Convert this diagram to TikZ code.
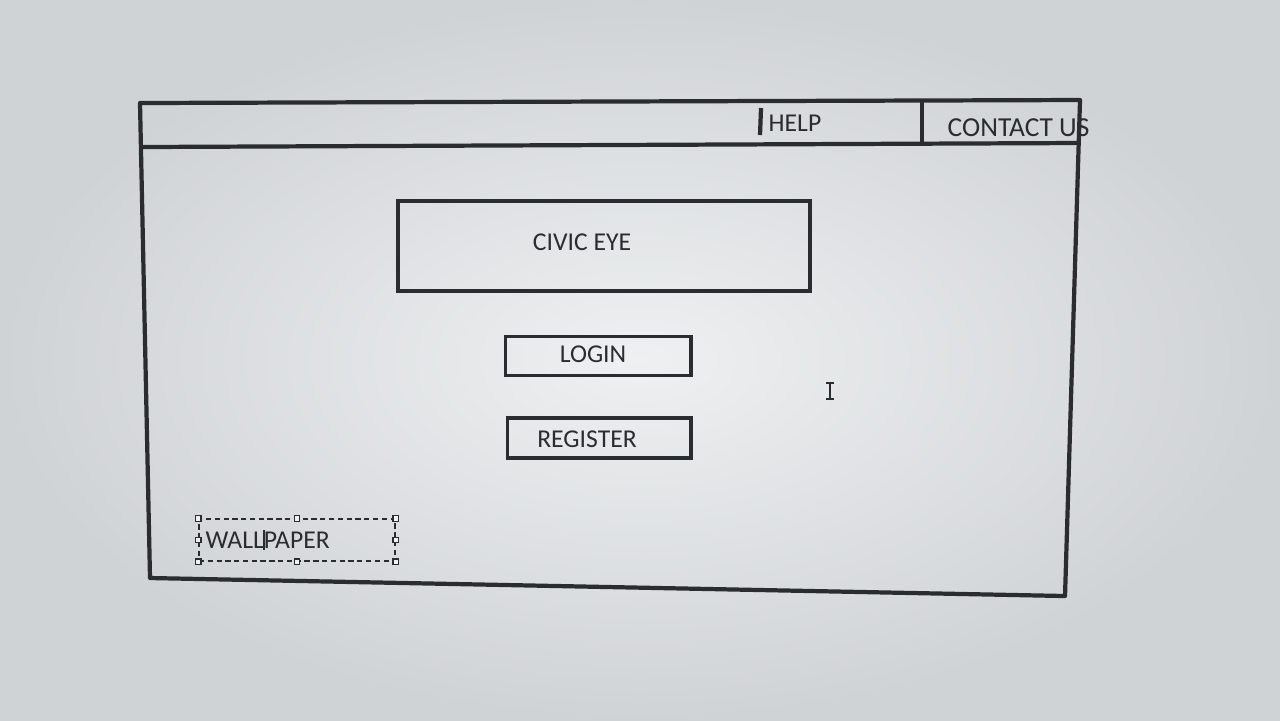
\documentclass[tikz,border=0pt]{standalone}
\usepackage{fontspec}
\setmainfont{Carlito}
\usetikzlibrary{positioning, calc}
\definecolor{cink}{HTML}{2A2C2F}
\definecolor{cscreen}{HTML}{D0D3D6}
\definecolor{clight}{HTML}{EEF0F1}
\tikzset{
  every picture/.style={x=0.01cm, y=-0.01cm},
  frame/.style={draw=cink, line width=1.2pt, line join=round},
  btn/.style={draw=cink, line width=1.1pt, inner sep=0pt, minimum width=#1},
  txt/.style={font=\fontsize{7.3}{9}\selectfont, text=cink, inner sep=0pt},
  sel/.style={draw=cink, dashed, dash pattern=on 1.5pt off 1pt, line width=0.35pt, inner sep=0pt},
  handle/.style={draw=cink, fill=clight, line width=0.35pt, minimum size=0.055cm, inner sep=0pt},
  caret/.style={draw=cink, line width=0.4pt},
}
\begin{document}
\begin{tikzpicture}
  % screen background
  \shade[inner color=clight, outer color=cscreen] (0,0) rectangle (1280,720);
  \useasboundingbox (0,0) rectangle (1280,720);
  % page frame
  \coordinate (tl) at (140,103);
  \coordinate (tr) at (1080,100);
  \coordinate (br) at (1065,596);
  \coordinate (bl) at (150,578);
  \draw[frame] (tl) -- (tr) -- (br) -- (bl) -- cycle;
  % top menu bar
  \coordinate (barl) at (142,147);
  \coordinate (barr) at (1078,143);
  \draw[frame] (barl) -- (barr);
  \coordinate (help) at (761,108);
  \draw[frame] (help) -- ++(-1,27);
  \coordinate (cont) at (922,101);
  \draw[frame] (cont) -- ++(0,42);
  \node[txt, anchor=west] (helptxt) at (768,123) {HELP};
  \node[txt, anchor=west, font=\fontsize{7.8}{9}\selectfont] (conttxt) at (947,128) {CONTACT US};
  % title and buttons
  \node[btn=4.12cm, minimum height=0.9cm] (title) at (604,246) {};
  \node[txt] (titletxt) at (582,242) {CIVIC EYE};
  \node[btn=1.85cm, minimum height=0.39cm] (login) at (598,356) {};
  \node[txt] (logintxt) at (593,354) {LOGIN};
  \node[btn=1.83cm, minimum height=0.40cm] (reg) at (599,438) {};
  \node[txt] (regtxt) at (587,439) {REGISTER};
  % wallpaper text box, selected
  \node[sel, minimum width=1.96cm, minimum height=0.42cm] (wall) at (297,540) {};
  \node[txt, anchor=west] (walltxt) at (205,540) {WALLPAPER};
  \foreach \a in {north west, north, north east, west, east, south west, south, south east}
    \node[handle] at (wall.\a) {};
  \draw[caret] (264,530) -- (264,550);
  % mouse pointer
  \coordinate (ibeam) at (830,383);
  \draw[caret] (ibeam) -- ++(0,16) (826,383) -- (834,383) (826,399) -- (834,399);
\end{tikzpicture}
\end{document}
